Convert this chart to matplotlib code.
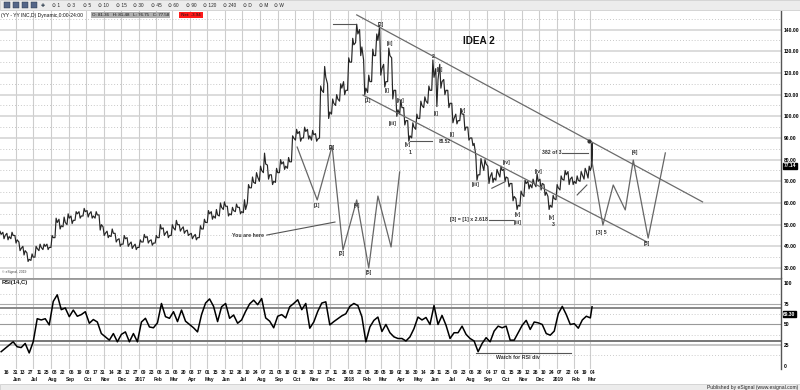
import matplotlib
matplotlib.use("Agg")
import matplotlib.pyplot as plt
import matplotlib.dates as mdates
import matplotlib.transforms as mtransforms
import numpy as np
import pandas as pd

plt.rcParams['font.family'] = ['Liberation Sans', 'DejaVu Sans']

#! weekly bars (Friday dates from 2016-05-06)
week_start = "2016-05-06"
close = [45.5, 45, 44.5, 45, 43, 39, 38, 34, 35, 39, 39.5, 40, 39.5, 44, 51, 49.5, 51, 53, 52, 55,
         54, 56, 55, 54, 54.5, 50, 46, 45, 46, 43, 41, 43.5, 41, 40, 39.5, 42, 44, 42.5, 41.5, 44,
         48, 46, 45, 48.5, 50, 48, 47, 45.5, 44.5, 44, 48, 51, 55, 54, 54.5, 58, 58.5, 55, 56.5, 58,
         56, 57, 67, 69.5, 72, 75, 78, 73, 70, 74, 78, 77, 79, 90, 92, 90, 93, 91, 91.5, 89.5,
         112, 118, 102, 106, 108, 113, 112, 125, 133, 138, 132, 113, 116, 128, 135, 122, 116, 128, 112, 103,
         104, 98, 91, 95, 99, 105, 107, 112, 118, 117, 116, 112, 106, 99, 98, 101, 95, 90, 87.5, 73,
         78, 78, 72, 71.5, 74, 75, 72, 69, 63, 59, 64, 69, 68.5, 69, 70, 69, 65, 59, 62, 67,
         71, 73, 71, 70, 70.5, 73, 74.5, 75]
low = [44, 43.5, 43, 43.5, 41.5, 38, 36, 33, 33.5, 35, 38, 38.5, 38.5, 39.5, 44, 48, 49, 50, 50.5, 52,
       53, 54, 53.5, 53, 53, 47.5, 45, 44, 44.5, 42, 40, 41, 40, 39, 38.5, 39.5, 42, 41.5, 40.5, 41.5,
       44, 45, 44, 45, 47.5, 47, 46, 45, 43.5, 43, 44, 48, 51, 52.5, 53, 54, 57, 54, 54.5, 56,
       55, 55.5, 60, 67, 69, 70, 74, 71, 68.5, 69.5, 74, 75.5, 76, 79, 89, 88.5, 90, 89.5, 89, 88.5,
       90, 111, 99, 101, 105, 107, 110, 112, 125, 134, 128, 110, 111, 116, 128, 119, 113.5, 116, 108, 100,
       101, 96, 88.5, 90, 94, 99, 104, 106, 112, 104.5, 113, 110, 104, 97, 96.5, 98, 93.5, 89, 86.5, 70.5,
       73, 75, 69, 69.5, 70.5, 72, 70, 67.5, 61, 57, 58.5, 63, 66.5, 67, 67.5, 66, 63.5, 57, 58, 61.5,
       66, 70.5, 68.5, 68.5, 69, 70, 71, 71.5]
high = [47, 46.5, 46, 46.5, 45, 42, 40, 37, 36.5, 40, 41, 41, 41, 45, 53, 52.5, 53.5, 55, 54, 56,
        56, 57.5, 56.5, 56, 56, 54.5, 49, 47, 48, 46, 43.5, 45, 44, 42, 41, 43, 45.5, 44.5, 43, 45,
        50, 48.5, 47, 50, 52, 50, 49, 47.5, 46, 45.5, 49.5, 52.5, 56.5, 56, 57, 60, 60.5, 58.5, 58, 59.5,
        58, 61.5, 68.5, 72, 74, 77, 83, 77.5, 73, 76, 80, 79, 81, 91, 94, 93, 95, 94, 93.5, 92,
        114, 123, 115, 108, 110, 115, 116, 127, 136, 142.5, 140, 126, 119, 131, 138, 141.5, 124, 131.5, 127, 112,
        107.5, 104, 98, 97, 101, 107, 109, 114, 126, 122, 124, 117, 112, 106, 101, 103.5, 101, 95, 90, 82,
        80.5, 80, 77, 74, 75.5, 77, 75.5, 71.5, 69, 62, 65.5, 70.5, 70, 71, 73.5, 71, 68.5, 63, 63.5, 68.5,
        72.5, 75, 74.5, 72, 72.5, 74.5, 76, 77]
rsi = [17, 21, 25, 29, 23, 22, 27, 15.5, 29, 57, 55.5, 57, 49.5, 78, 86, 68, 70, 59.5, 67.5, 60,
       62, 65.5, 51.5, 56, 53, 39, 35, 31, 39, 29, 38, 41, 29, 39, 29, 53, 57.5, 47, 46, 52,
       75.5, 59.5, 57.5, 65.5, 53.5, 67.5, 54, 50, 46, 41, 62, 76, 81, 72, 53.5, 71.5, 75.5, 57.5, 61.5, 51.5,
       55.5, 66, 75, 79.5, 74, 81.5, 58, 54, 46, 60, 62, 58, 71.5, 75.5, 80, 68, 75.5, 45.5, 53, 66,
       76, 77.5, 49.5, 53.5, 57, 60.5, 63, 72, 75.5, 73, 59.5, 29, 47, 55, 59, 41.5, 50, 40, 35, 33,
       33, 30, 35, 45, 59, 55.5, 58.5, 50, 73, 50, 61, 49, 33, 40, 40, 48, 38, 33, 30, 17,
       27, 34, 29, 42, 48, 46, 48, 31, 31, 40, 49, 55, 44, 53, 52, 50, 39, 37, 42, 63,
       72, 62, 50, 51, 45.5, 55.5, 60, 58]

# last (Monday) bar
last_day = "2019-03-04"
last_low, last_high, last_close, last_rsi = 76.75, 87.5, 77.14, 71.5

# biweekly date ticks
tick_dates = ["2016-05-16", "2016-05-31", "2016-06-13", "2016-06-27", "2016-07-11", "2016-07-25",
              "2016-08-08", "2016-08-22", "2016-09-06", "2016-09-19", "2016-10-03", "2016-10-17",
              "2016-10-31", "2016-11-14", "2016-11-28", "2016-12-12", "2016-12-27", "2017-01-09",
              "2017-01-23", "2017-02-06", "2017-02-21", "2017-03-06", "2017-03-20", "2017-04-03",
              "2017-04-17", "2017-05-01", "2017-05-15", "2017-05-30", "2017-06-12", "2017-06-26",
              "2017-07-10", "2017-07-24", "2017-08-07", "2017-08-21", "2017-09-05", "2017-09-18",
              "2017-10-02", "2017-10-16", "2017-10-30", "2017-11-13", "2017-11-27", "2017-12-11",
              "2017-12-26", "2018-01-08", "2018-01-22", "2018-02-05", "2018-02-20", "2018-03-05",
              "2018-03-19", "2018-04-02", "2018-04-16", "2018-04-30", "2018-05-14", "2018-05-29",
              "2018-06-11", "2018-06-25", "2018-07-09", "2018-07-23", "2018-08-06", "2018-08-20",
              "2018-09-04", "2018-09-17", "2018-10-01", "2018-10-15", "2018-10-29", "2018-11-12",
              "2018-11-26", "2018-12-10", "2018-12-24", "2019-01-07", "2019-01-22", "2019-02-04",
              "2019-02-19", "2019-03-04"]

price_levels = [30, 40, 50, 60, 70, 80, 90, 100, 110, 120, 130, 140]
rsi_levels = [0, 25, 50, 75, 100]

#* drawn analysis (dates, prices)
upper_channel = (["2018-01-17", "2019-09-13"], [146.8, 60.5])
lower_channel = (["2018-01-28", "2019-06-08"], [109.8, 42.0])
peak_line = (["2017-12-06", "2018-01-14"], [142.6, 142.6])
low_line = (["2018-04-20", "2018-05-28"], [88.6, 88.6])
ratio_line = (["2018-09-05", "2018-10-17"], [52.2, 52.2])
fib_line = (["2019-01-11", "2019-02-25"], [83.1, 83.1])
here_line = (["2017-08-13", "2017-12-10"], [45.2, 51.2])
trend_a = (["2018-09-10", "2018-10-03"], [66.8, 69.8])
trend_b = (["2019-02-06", "2019-02-23"], [63.7, 68.3])
proj_left = (["2017-10-05", "2017-11-09", "2017-12-05", "2017-12-24", "2018-01-17", "2018-02-07",
              "2018-02-23", "2018-03-18", "2018-04-02"],
             [85.8, 61.4, 86.3, 38.3, 61.4, 30.0, 63.2, 39.7, 74.3])
proj_right = (["2019-03-04", "2019-03-23", "2019-04-10", "2019-05-01", "2019-05-15", "2019-06-10",
               "2019-07-10"],
              [78.9, 49.8, 68.3, 56.8, 79.8, 43.8, 83.1])

wave_labels = [
    ("[2]", "2018-02-28", 142.6), ("[ii]", "2018-03-16", 133.8), ("[i]", "2018-03-11", 112.1),
    ("[1]", "2018-02-06", 107.1), ("[iv]", "2018-04-03", 107.5), ("[iii]", "2018-03-20", 96.9),
    ("[v]", "2018-04-17", 86.8), ("1", "2018-04-20", 83.5), ("2", "2018-05-30", 127.4),
    ("[ii]", "2018-06-11", 121.4), ("[i]", "2018-06-04", 101.5), ("[v]", "2018-07-22", 102.9),
    ("[i]", "2018-07-02", 91.4), ("[iii]", "2018-08-12", 68.3), ("[iv]", "2018-10-06", 78.5),
    ("[iv]", "2018-12-01", 74.3), ("[v]", "2018-10-26", 54.5), ("[iii]", "2018-10-26", 50.8),
    ("[v]", "2018-12-24", 53.5), ("3", "2018-12-26", 50.3), ("[3] 5", "2019-03-20", 46.2),
    ("[4]", "2019-05-18", 83.1), ("[5]", "2019-06-08", 41.5), ("[2]", "2017-12-05", 85.8),
    ("[1]", "2017-11-09", 59.0), ("[4]", "2018-01-17", 59.0), ("[3]", "2017-12-22", 36.9),
    ("[5]", "2018-02-07", 27.7),
]


def d(s):
    return mdates.date2num(pd.Timestamp(s))


W, H = 800, 390
fig = plt.figure(figsize=(W / 100, H / 100), dpi=100)
fig.patch.set_facecolor("white")


def fx(px):
    return px / W


def fy(py):
    return 1 - py / H


x_left, x_right = d("2016-05-04"), d("2020-01-28")
ax = fig.add_axes([0, fy(278), fx(781), fy(11) - fy(278)])
ax2 = fig.add_axes([0, fy(369), fx(781), fy(278) - fy(369)])

weeks = pd.date_range(week_start, periods=len(close), freq="W-FRI")
wx = mdates.date2num(weeks)
bx = np.append(wx, d(last_day))
rsi_all = np.append(rsi, last_rsi)

month_starts = pd.date_range("2016-06-01", "2019-03-01", freq="MS")

for a in (ax, ax2):
    a.set_xlim(x_left, x_right)
    for m in month_starts:
        a.axvline(d(m), color="#cdcdcd", lw=0.8, zorder=0)
    a.set_xticks([])
    for s in ("top", "left", "bottom"):
        a.spines[s].set_visible(False)
    a.spines["right"].set_color("#555555")
    a.spines["right"].set_linewidth(1.0)

#* price panel
ax.set_ylim(25.38, 148.6)
for p in price_levels:
    ax.axhline(p, color="#d2d2d2", lw=1.1, zorder=0)
    ax.axhline(p + 5, color="#b5b5b5", lw=0.6, ls=(0, (1, 2.5)), zorder=0)

# jagged path through each week's range, then the close
px_, py_ = [], []
prev = close[0]
for x, lo, hi, c in zip(wx, low, high, close):
    px_ += [x - 4, x - 2, x]
    if c >= prev:
        py_ += [lo, hi, c]
    else:
        py_ += [hi, lo, c]
    prev = c
px_ += [d(last_day) - 1, d(last_day), d(last_day)]
py_ += [last_low, last_high, last_close]
ax.plot(px_, py_, color="#262626", lw=0.85)

ax.yaxis.tick_right()
ax.set_yticks(price_levels)
ax.set_yticklabels([f"{p:.2f}" for p in price_levels])
ax.tick_params(axis="y", length=0, pad=2, labelsize=3.6)
for lab in ax.get_yticklabels():
    lab.set_fontweight("bold")

for seg in (upper_channel, lower_channel):
    ax.plot([d(s) for s in seg[0]], seg[1], color="#6b6b6b", lw=0.9)
for seg in (peak_line, low_line, ratio_line, fib_line, here_line, trend_a, trend_b):
    ax.plot([d(s) for s in seg[0]], seg[1], color="#555555", lw=0.8)
for seg in (proj_left, proj_right):
    ax.plot([d(s) for s in seg[0]], seg[1], color="#666666", lw=0.9)
ax.plot(d("2019-02-27"), 88.6, "o", color="#333333", ms=2)

for txt, ds, p in wave_labels:
    ax.text(d(ds), p, txt, fontsize=3.8, fontweight="bold", color="#333333", ha="center", va="center")
ax.text(d("2018-06-09"), 88.6, "88.52", fontsize=3.4, fontweight="bold", color="#333333", va="center")
ax.text(d("2018-09-03"), 52.2, "[3] = [1] x 2.618", fontsize=3.8, fontweight="bold", color="#333333",
        ha="right", va="center")
ax.text(d("2019-01-09"), 83.1, "382 of 3", fontsize=3.8, fontweight="bold", color="#333333",
        ha="right", va="center")
ax.text(d("2017-07-11"), 44.8, "You are here", fontsize=3.8, fontweight="bold", color="#333333",
        ha="center", va="center")
ax.text(d("2018-08-18"), 134.8, "IDEA 2", fontsize=7.2, fontweight="bold", color="#111111",
        ha="center", va="center")

blend = mtransforms.blended_transform_factory(ax.transAxes, ax.transData)
ax.text(0.002, 27.5, "\u00a9 eSignal, 2019", fontsize=2.4, color="#444444", transform=blend)
ax.text(1.003, last_close, f"{last_close:.2f}", transform=blend, fontsize=3.6, fontweight="bold",
        color="white", va="center", bbox=dict(boxstyle="square,pad=0.15", fc="black", ec="black"))

#* RSI panel
ax2.set_ylim(-4.0, 106.4)
for lvl, col, lw in ((75, "#aaaaaa", 0.8), (70, "#888888", 1.4), (50, "#999999", 0.8),
                     (30, "#777777", 1.4), (25, "#bbbbbb", 1.2)):
    ax2.axhline(lvl, color=col, lw=lw, zorder=1)
for lvl in (12.5, 37.5, 62.5, 87.5):
    ax2.axhline(lvl, color="#bbbbbb", lw=0.6, ls=(0, (1, 2.5)), zorder=0)
ax2.axhline(106, color="#999999", lw=2.0)
ax2.plot(bx, rsi_all, color="black", lw=1.1, zorder=3)
ax2.plot([d("2018-08-13"), d("2019-01-27")], [15, 15], color="#555555", lw=0.8)
ax2.text(d("2018-10-26"), 10, "Watch for RSI div", fontsize=3.8, fontweight="bold", color="#333333",
         ha="center", va="center")
blend2 = mtransforms.blended_transform_factory(ax2.transAxes, ax2.transData)
ax2.text(0.002, 103.5, "RSI(14,C)", transform=blend2, fontsize=4.2, fontweight="bold",
         color="#222222", va="top")
ax2.yaxis.tick_right()
ax2.set_yticks(rsi_levels)
ax2.set_yticklabels([str(r) for r in rsi_levels])
ax2.tick_params(axis="y", length=0, pad=2, labelsize=3.6)
for lab in ax2.get_yticklabels():
    lab.set_fontweight("bold")
ax2.text(1.003, 62.5, "69.30", transform=blend2, fontsize=3.6, fontweight="bold", color="white",
         va="center", bbox=dict(boxstyle="square,pad=0.15", fc="black", ec="black"))

#* date labels below the RSI panel
axt = fig.add_axes([0, fy(383), fx(781), fy(369) - fy(383)])
axt.set_xlim(x_left, x_right)
axt.set_ylim(0, 1)
axt.axis("off")
for t in tick_dates:
    axt.text(d(t), 0.74, pd.Timestamp(t).strftime("%d"), fontsize=3.5, fontweight="bold",
             ha="center", va="center", color="#111111")
for m in month_starts:
    lab = str(m.year) if m.month == 1 else m.strftime("%b")
    axt.text(d(m) + 3, 0.28, lab, fontsize=3.5, fontweight="bold", ha="center", va="center",
             color="#111111")

#* chrome: toolbar, title line, status bar
fig.patches.append(plt.Rectangle((0, fy(10)), 1, 1 - fy(10), transform=fig.transFigure,
                                 fc="#ececec", ec="#c8c8c8", lw=0.5))
fig.patches.append(plt.Rectangle((0, 0), 1, fy(384), transform=fig.transFigure,
                                 fc="#ececec", ec="#c8c8c8", lw=0.5))
for i in range(4):
    fig.patches.append(plt.Rectangle((fx(4 + 9 * i), fy(8)), fx(6), fy(2) - fy(8),
                                     transform=fig.transFigure, fc="#556688", ec="#223344", lw=0.3))
fig.text(fx(41), fy(5.5), "\u271a", fontsize=3.5, va="center", color="#223344")
tbar = ["1", "3", "5", "10", "15", "30", "45", "60", "90", "120", "240", "D", "M", "W"]
xpos = 52
for t in tbar:
    fig.text(fx(xpos), fy(5.5), "\u2299 " + t, fontsize=3.4, va="center", color="#222222")
    xpos += 13 + 2.3 * len(t)
fig.text(fx(1), fy(15), "(YY - YY INC,D) Dynamic,0:00-24:00", fontsize=3.6, va="center", color="#111111")
fig.text(fx(92), fy(15), "O: 81.36   H: 81.48   L: 76.75   C: 77.58", fontsize=3.2, va="center",
         color="#111111", bbox=dict(boxstyle="square,pad=0.2", fc="#b0b0b0", ec="none"))
fig.text(fx(180), fy(15), " Net: -3.94 ", fontsize=3.2, va="center", color="#111111",
         bbox=dict(boxstyle="square,pad=0.2", fc="#ff1a1a", ec="none"))
fig.text(fx(798), fy(387), "Published by eSignal (www.esignal.com)", fontsize=3.6, ha="right",
         va="center", color="#222222")

fig.savefig("out.png", dpi=100)
